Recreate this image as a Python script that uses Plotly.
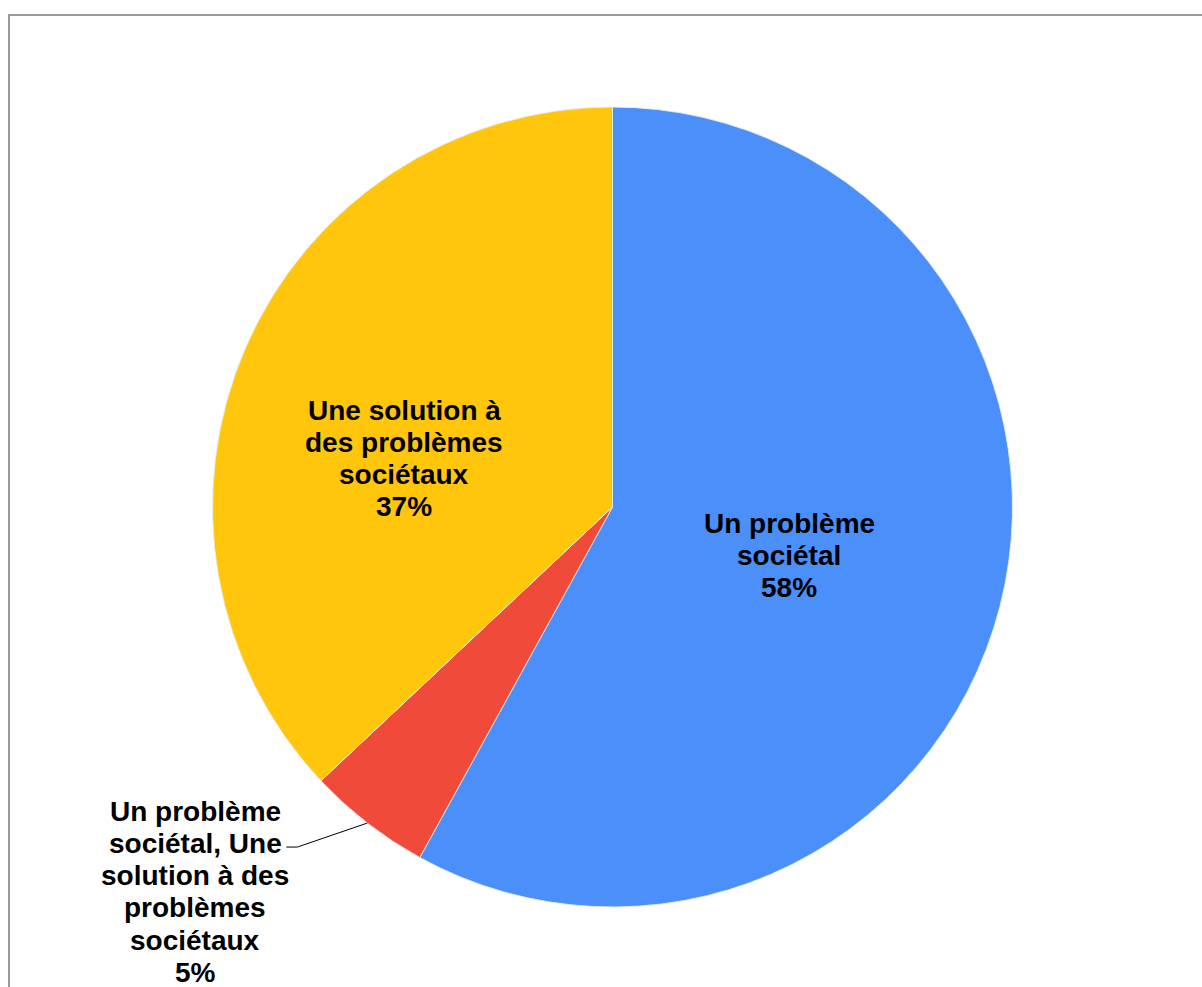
import math
import plotly.graph_objects as go

# Survey answers and their shares (%)
categories = [
    "Un problème<br>sociétal",
    "Un problème<br>sociétal, Une<br>solution à des<br>problèmes<br>sociétaux",
    "Une solution à<br>des problèmes<br>sociétaux",
]
values = [58, 5, 37]
colors = ["#4A8FFA", "#EF4A3A", "#FFC60B"]

W, H = 1202, 987
CX, CY, R = 612.5, 507.0, 400.0   # pie centre / radius in pixels
FONT = 28
LINE_STEP = 32.2

def px(x):
    return x / W

def py(y):
    return 1 - y / H

fig = go.Figure(
    go.Pie(
        labels=[c.replace("<br>", " ") for c in categories],
        values=values,
        sort=False,
        direction="clockwise",
        rotation=0,
        marker=dict(colors=colors, line=dict(color="rgba(235,235,235,0.9)", width=1)),
        textinfo="none",
        hovertemplate="%{label}: %{percent}<extra></extra>",
        domain=dict(x=[px(CX - R), px(CX + R)], y=[py(CY + R), py(CY - R)]),
        showlegend=False,
    )
)

# label anchors: (centre x, first baseline y) in pixels
label_pos = [(789, 533), (195, 821), (404, 420)]

total = sum(values)
annotations = []
for cat, val, (lx, ly) in zip(categories, values, label_pos):
    lines = cat.split("<br>") + [f"{round(100 * val / total)}%"]
    for i, line in enumerate(lines):
        base = ly + i * LINE_STEP
        annotations.append(dict(
            text=f"<b>{line}</b>", x=px(lx), y=py(base - 0.35 * FONT),
            xref="paper", yref="paper", xanchor="center", yanchor="middle",
            showarrow=False,
            font=dict(family="Liberation Sans, Arial, sans-serif", size=FONT, color="#000000"),
        ))

# leader line for the small slice, starting at its mid-angle on the rim
cum = sum(values[:1])
mid = (cum + values[1] / 2) / total * 2 * math.pi
sx, sy = CX + R * math.sin(mid), CY - R * math.cos(mid)
ex, ey = sx - 70, sy + 24
hx = ex - 11
shapes = [
    dict(type="path", xref="paper", yref="paper",
         path=f"M {px(sx)} {py(sy)} L {px(ex)} {py(ey)} L {px(hx)} {py(ey)}",
         line=dict(color="#000000", width=1)),
    # chart frame
    dict(type="rect", xref="paper", yref="paper",
         x0=px(9), y0=py(15), x1=1.05, y1=-0.05,
         line=dict(color="#9A9A9A", width=2), fillcolor="rgba(0,0,0,0)"),
]

fig.update_layout(
    width=W, height=H,
    margin=dict(l=0, r=0, t=0, b=0),
    paper_bgcolor="#FFFFFF",
    plot_bgcolor="#FFFFFF",
    annotations=annotations,
    shapes=shapes,
)

fig.write_html("out.html")
